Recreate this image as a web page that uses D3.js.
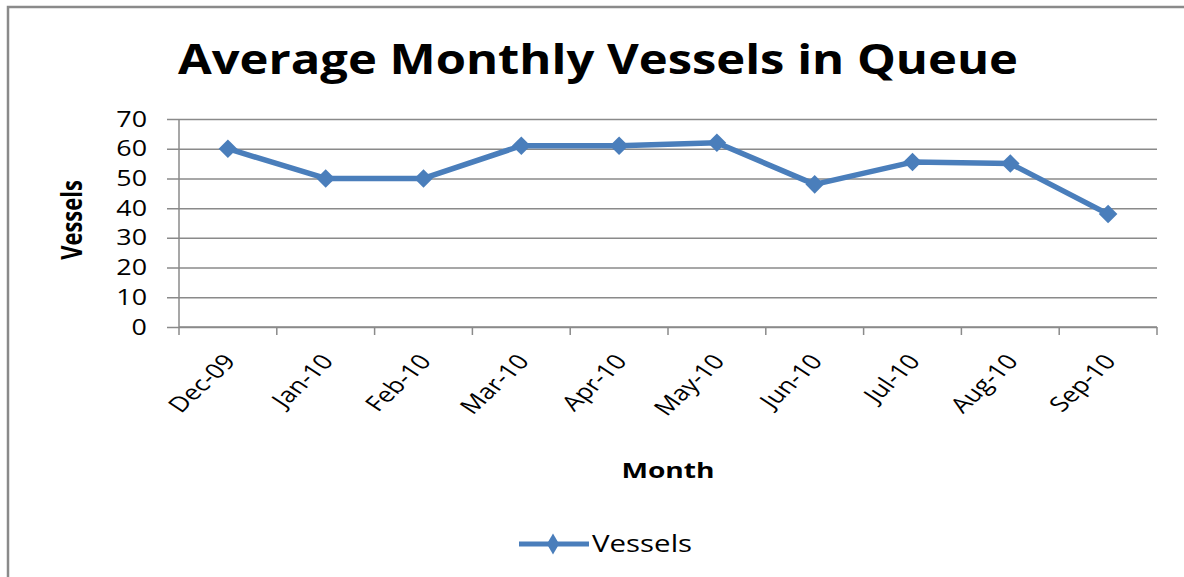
<!DOCTYPE html>
<html>
<head>
<meta charset="utf-8">
<script src="https://cdn.jsdelivr.net/npm/d3@7"></script>
<style>
  body { margin: 0; background: #fff; }
  svg { display: block; font-family: "Open Sans", sans-serif; }
</style>
</head>
<body>
<script>
const months = ['Dec-09', 'Jan-10', 'Feb-10', 'Mar-10', 'Apr-10', 'May-10', 'Jun-10', 'Jul-10', 'Aug-10', 'Sep-10'];
const vessels = [60, 50, 50, 61, 61, 62, 48, 55.5, 55, 38];
const yTicks = [0, 10, 20, 30, 40, 50, 60, 70];

const width = 1184, height = 577;
const plot = { left: 179, right: 1157, top: 119, bottom: 327 };
const blue = '#4A7EBB', grey = '#8a8a8a';
const stretch = 1.28; // the picture is wider than tall, text too

const svg = d3.select('body').append('svg')
    .attr('width', width)
    .attr('height', height);

// places a text at (x, y), stretched sideways, optionally rotated
function label(x, y, txt, opts) {
    opts = opts || {};
    return svg.append('text')
        .attr('transform', `translate(${x}, ${y}) scale(${stretch}, 1) rotate(${opts.rotate || 0})`)
        .attr('text-anchor', opts.anchor || 'start')
        .attr('font-size', opts.size || 20)
        .attr('font-weight', opts.bold ? 700 : 400)
        .attr('fill', '#000')
        .text(txt);
}

// frame round the chart
svg.append('rect')
    .attr('x', 8).attr('y', 7)
    .attr('width', 1200).attr('height', 600)
    .attr('fill', 'none')
    .attr('stroke', grey)
    .attr('stroke-width', 2.5);

svg.append('text')
    .attr('x', 598).attr('y', 74)
    .attr('text-anchor', 'middle')
    .attr('font-size', 42)
    .attr('font-weight', 700)
    .attr('textLength', 840)
    .attr('lengthAdjust', 'spacingAndGlyphs')
    .text('Average Monthly Vessels in Queue');

var xScale = d3.scaleBand()
    .domain(months)
    .range([plot.left, plot.right]);

var yScale = d3.scaleLinear()
    .domain([0, 70])
    .range([plot.bottom, plot.top]);

// gridlines, ticks sticking out to the left
var yAxis = d3.axisLeft(yScale)
    .tickValues(yTicks)
    .tickSize(-(plot.right - plot.left))
    .tickFormat('');

var yAxisGroup = svg.append('g')
    .attr('transform', `translate(${plot.left}, 0)`)
    .call(yAxis);
yAxisGroup.select('.domain').remove();
yAxisGroup.selectAll('.tick line')
    .attr('x1', -12)
    .attr('stroke', grey)
    .attr('stroke-width', 1.5);

yTicks.forEach(t => label(147, yScale(t) + 7.5, t, { anchor: 'end', size: 21 }));

svg.append('line')
    .attr('x1', plot.left).attr('x2', plot.left)
    .attr('y1', plot.top).attr('y2', plot.bottom)
    .attr('stroke', grey).attr('stroke-width', 1.5);

// x axis, ticks on the category boundaries
var xAxisGroup = svg.append('g')
    .attr('transform', `translate(0, ${plot.bottom})`);
xAxisGroup.append('line')
    .attr('x1', plot.left).attr('x2', plot.right)
    .attr('stroke', grey).attr('stroke-width', 1.5);
xAxisGroup.selectAll('line.tk')
    .data(months.concat(['end']))
    .enter()
    .append('line')
    .attr('class', 'tk')
    .attr('x1', (d, i) => i < months.length ? xScale(d) : plot.right)
    .attr('x2', (d, i) => i < months.length ? xScale(d) : plot.right)
    .attr('y1', 0).attr('y2', 8)
    .attr('stroke', grey).attr('stroke-width', 1.5);

var cx = d => xScale(d) + xScale.bandwidth() / 2;
months.forEach(m => label(cx(m) + 9, plot.bottom + 35, m, { anchor: 'end', size: 21, rotate: -50 }));

// axis titles
label(82, 220, 'Vessels', { anchor: 'middle', size: 22, bold: true, rotate: -90 });
label(668, 478, 'Month', { anchor: 'middle', size: 22, bold: true });

// series
var line = d3.line()
    .x(d => cx(d.m))
    .y(d => yScale(d.v));
var data = months.map((m, i) => ({ m: m, v: vessels[i] }));

svg.append('path')
    .datum(data)
    .attr('d', line)
    .attr('fill', 'none')
    .attr('stroke', blue)
    .attr('stroke-width', 5.5)
    .attr('stroke-linejoin', 'round');

var diamond = d3.symbol().type(d3.symbolDiamond2).size(220);
svg.selectAll('path.mk')
    .data(data)
    .enter()
    .append('path')
    .attr('class', 'mk')
    .attr('d', diamond)
    .attr('transform', d => `translate(${cx(d.m)}, ${yScale(d.v)})`)
    .attr('fill', blue);

// legend
var legend = svg.append('g').attr('transform', 'translate(519, 544)');
legend.append('line')
    .attr('x1', 0).attr('x2', 70)
    .attr('stroke', blue).attr('stroke-width', 5);
legend.append('path')
    .attr('d', d3.symbol().type(d3.symbolDiamond).size(130))
    .attr('transform', 'translate(34, 0)')
    .attr('fill', blue);
label(592, 552, 'Vessels', { size: 23 });
</script>
</body>
</html>
